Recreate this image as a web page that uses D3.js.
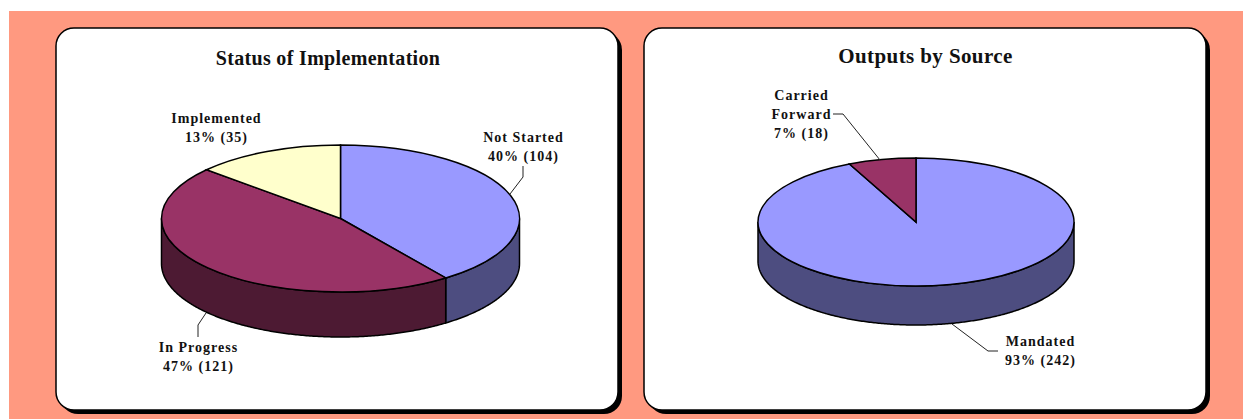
<!DOCTYPE html>
<html>
<head>
<meta charset="utf-8">
<script src="https://cdn.jsdelivr.net/npm/d3@7/dist/d3.min.js"></script>
<style>
html, body { margin: 0; padding: 0; background: #fff; }
svg { display: block; }
text { font-family: "Liberation Serif", serif; font-weight: bold; fill: #111; text-anchor: middle; }
</style>
</head>
<body>
<div id="chart"></div>
<script>
// values
const statusNames = ["Not Started", "In Progress", "Implemented"];
const statusValues = [104, 121, 35];
const statusPct = ["40%", "47%", "13%"];
const sourceNames = ["Mandated", "Carried Forward"];
const sourceValues = [242, 18];
const sourcePct = ["93%", "7%"];

const topColors = ["#9999ff", "#993366", "#ffffcc"];
const sideColors = ["#4d4d80", "#4d1a33", "#80805c"];
const sourceTop = ["#9999ff", "#993366"];
const sourceSide = ["#4d4d80", "#4d1a33"];

const width = 1243, height = 419;
const svg = d3.select("#chart").append("svg").attr("width", width).attr("height", height);

svg.append("rect").attr("x", 9).attr("y", 11).attr("width", width - 9).attr("height", height - 11).attr("fill", "#ff9980");

function panel(x, y, w, h) {
    // hard shadow, then the white card on top
    svg.append("rect").attr("x", x + 4).attr("y", y + 4).attr("width", w).attr("height", h)
        .attr("rx", 18).attr("fill", "#000");
    svg.append("rect").attr("x", x).attr("y", y).attr("width", w).attr("height", h)
        .attr("rx", 18).attr("fill", "#fff").attr("stroke", "#000").attr("stroke-width", 1.5);
}

// Pseudo 3D pie: flat pie angles squeezed onto an ellipse
function pie3d(opts) {
    const { cx, cy, rx, ry, depth, values, top, side } = opts;
    const arcs = d3.pie().sort(null)(values);
    const g = svg.append("g");
    const px = a => cx + rx * Math.sin(a);
    const py = a => cy - ry * Math.cos(a);

    // walls, only the front half (90deg to 270deg) shows
    arcs.forEach((d, i) => {
        const a0 = Math.max(d.startAngle, Math.PI / 2);
        const a1 = Math.min(d.endAngle, Math.PI * 3 / 2);
        if (a1 <= a0) return;
        const wall = d3.area().x(a => px(a)).y0(a => py(a)).y1(a => py(a) + depth);
        g.append("path")
            .attr("d", wall(d3.range(a0, a1, 0.01).concat(a1)))
            .attr("fill", side[i]).attr("stroke", "#000").attr("stroke-width", 1.5);
    });

    // top slices through d3.arc in a squashed group
    const topG = g.append("g").attr("transform", `translate(${cx},${cy}) scale(1,${ry / rx})`);
    const arc = d3.arc().innerRadius(0).outerRadius(rx);
    topG.selectAll("path").data(arcs).enter().append("path")
        .attr("d", arc)
        .attr("fill", (d, i) => top[i])
        .attr("stroke", "#000").attr("stroke-width", 1.5)
        .attr("vector-effect", "non-scaling-stroke");
}

function label(x, y, lines) {
    lines.forEach((t, i) => {
        svg.append("text").attr("x", x + 0.5).attr("y", y + i * 19)
            .attr("font-size", 14).attr("letter-spacing", 1).text(t);
    });
}

function leader(points) {
    svg.append("path").attr("d", d3.line()(points)).attr("fill", "none")
        .attr("stroke", "#222").attr("stroke-width", 1);
}

panel(56, 28, 562, 382);
panel(644, 28, 562, 382);

svg.append("text").attr("x", 328).attr("y", 65).attr("font-size", 20).attr("letter-spacing", 0.33).text("Status of Implementation");
svg.append("text").attr("x", 925.5).attr("y", 63).attr("font-size", 21).attr("letter-spacing", 0.4).text("Outputs by Source");

pie3d({ cx: 340.5, cy: 218.5, rx: 179, ry: 73.5, depth: 45, values: statusValues, top: topColors, side: sideColors });
pie3d({ cx: 916, cy: 222, rx: 158, ry: 64, depth: 39, values: sourceValues, top: sourceTop, side: sourceSide });

leader([[523, 166], [523, 177], [510, 194]]);
leader([[198, 337], [198, 325], [206, 313]]);
leader([[833, 114], [843, 114], [880, 160]]);
leader([[998, 351], [988, 351], [952, 324]]);

label(523, 142, [statusNames[0], `${statusPct[0]} (${statusValues[0]})`]);
label(198, 352, [statusNames[1], `${statusPct[1]} (${statusValues[1]})`]);
label(216, 123, [statusNames[2], `${statusPct[2]} (${statusValues[2]})`]);
label(801, 100, ["Carried", "Forward", `${sourcePct[1]} (${sourceValues[1]})`]);
label(1040, 346, [sourceNames[0], `${sourcePct[0]} (${sourceValues[0]})`]);
</script>
</body>
</html>
